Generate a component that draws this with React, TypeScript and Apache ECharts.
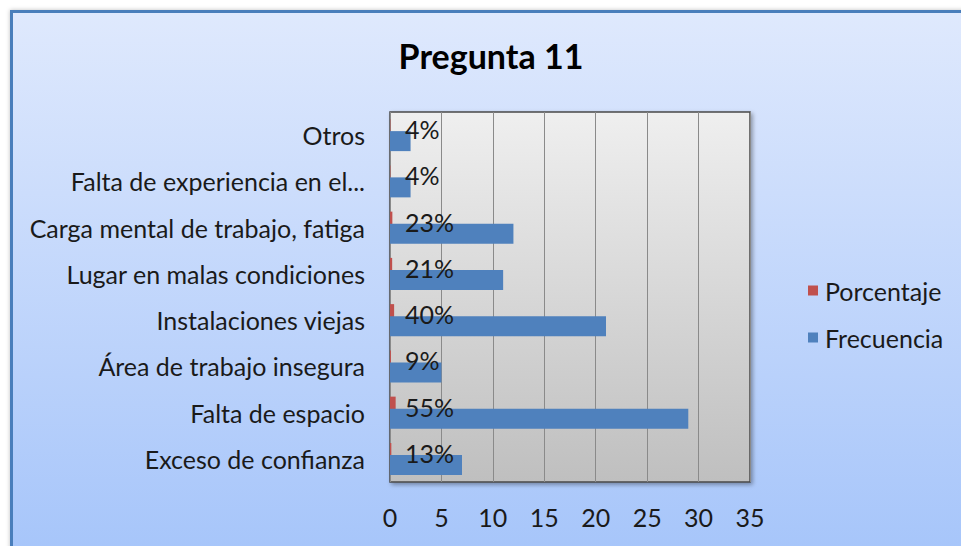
import React, { useEffect, useRef } from "react";
import * as echarts from "echarts";

const categories = [
  "Exceso de confianza",
  "Falta de espacio",
  "Área de trabajo insegura",
  "Instalaciones viejas",
  "Lugar en malas condiciones",
  "Carga mental de trabajo, fatiga",
  "Falta de experiencia en el...",
  "Otros",
];
const frecuencia = [7, 29, 5, 21, 11, 12, 2, 2];
const porcentaje = [0.13, 0.55, 0.09, 0.4, 0.21, 0.23, 0.04, 0.04];
const xTicks = { min: 0, max: 35, interval: 5 };

const FONT = "Lato, 'Open Sans', sans-serif";

export default function App() {
  const ref = useRef<HTMLDivElement>(null);
  useEffect(() => {
    if (!ref.current) return;
    const chart = echarts.init(ref.current, undefined, { renderer: "svg" });
    chart.setOption({
      animation: false,
      backgroundColor: "#ffffff",
      textStyle: { fontFamily: FONT },
      graphic: [
        {
          type: "rect",
          z: -10,
          silent: true,
          shape: { x: 11.5, y: 11.5, width: 960, height: 545 },
          style: {
            fill: new echarts.graphic.LinearGradient(0, 0, 0, 1, [
              { offset: 0, color: "#dfe9fd" },
              { offset: 1, color: "#a6c5fa" },
            ]),
            stroke: "#4a7ebb",
            lineWidth: 3,
            shadowColor: "rgba(0,0,0,0.25)",
            shadowBlur: 4,
          },
        },
      ],
      title: {
        text: "Pregunta 11",
        left: 486,
        top: 33,
        textAlign: "center",
        textStyle: { fontFamily: FONT, fontSize: 34, fontWeight: "bold", color: "#000" },
      },
      legend: {
        orient: "vertical",
        left: 803,
        top: 273,
        itemWidth: 10,
        itemHeight: 10,
        itemGap: 22,
        icon: "rect",
        data: ["Porcentaje", "Frecuencia"],
        textStyle: { fontFamily: FONT, fontSize: 25, color: "#1a1a1a", padding: [0, 0, 0, 2] },
      },
      grid: {
        left: 390,
        top: 112,
        width: 360,
        height: 370,
        show: true,
        backgroundColor: new echarts.graphic.LinearGradient(0, 0, 0, 1, [
          { offset: 0, color: "#efefef" },
          { offset: 1, color: "#bfbfbf" },
        ]),
        borderColor: "#4a4a4a",
        borderWidth: 1.5,
        shadowColor: "rgba(0,0,0,0.35)",
        shadowBlur: 4,
        shadowOffsetX: 2,
        shadowOffsetY: 2,
      },
      xAxis: {
        type: "value",
        min: xTicks.min,
        max: xTicks.max,
        interval: xTicks.interval,
        axisLine: { show: false },
        axisTick: { show: false },
        axisLabel: { fontFamily: FONT, fontSize: 25, color: "#1a1a1a", margin: 22 },
        splitLine: { show: true, lineStyle: { color: "#8a8a8a", width: 1 } },
      },
      yAxis: {
        type: "category",
        data: categories,
        axisLine: { show: false },
        axisTick: { show: false },
        axisLabel: {
          fontFamily: FONT,
          fontSize: 25,
          color: "#1a1a1a",
          margin: 25,
          padding: [0, 0, 4, 0],
        },
      },
      series: [
        {
          name: "Porcentaje",
          type: "bar",
          data: porcentaje,
          barWidth: 20,
          barGap: "-40%",
          itemStyle: { color: "#c0504d" },
          label: {
            show: true,
            position: [15, "50%"],
            align: "left",
            verticalAlign: "middle",
            fontFamily: FONT,
            fontSize: 25,
            color: "#1a1a1a",
            formatter: (p: any) => Math.round(p.value * 100) + "%",
          },
        },
        {
          name: "Frecuencia",
          type: "bar",
          data: frecuencia,
          barWidth: 20,
          barGap: "-40%",
          itemStyle: { color: "#4f81bd" },
        },
      ],
    });
    return () => chart.dispose();
  }, []);
  return (
    <div
      ref={ref}
      style={{ position: "fixed", left: 0, top: 0, width: 961, height: 546 }}
    />
  );
}
